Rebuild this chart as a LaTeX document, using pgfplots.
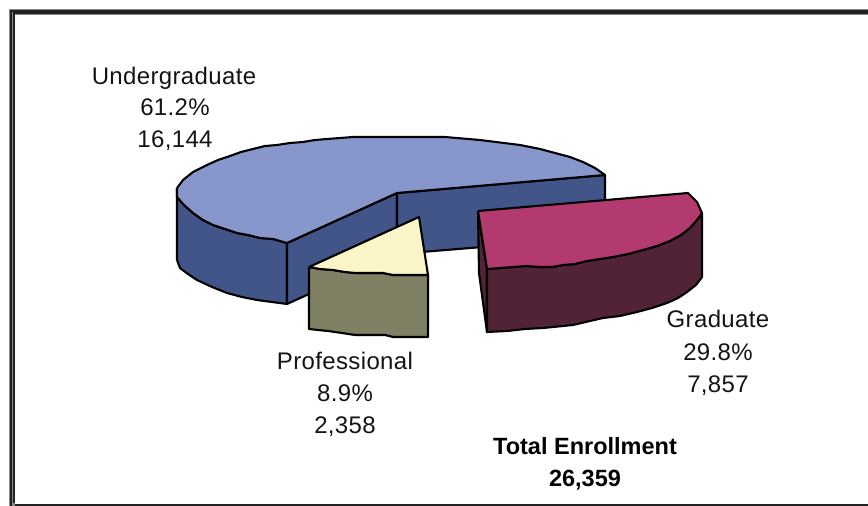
\documentclass[border=0pt]{standalone}
\usepackage{pgfplots}
\pgfplotsset{compat=1.18}
\usepackage{fontspec}
\setmainfont{Liberation Sans}
\definecolor{btop}{HTML}{8797CB}
\definecolor{bside}{HTML}{425589}
\definecolor{cream}{HTML}{FBF4C6}
\definecolor{olive}{HTML}{7F8064}
\definecolor{mag}{HTML}{B23A6F}
\definecolor{dark}{HTML}{522337}
\definecolor{fr}{HTML}{222222}
\definecolor{frg}{HTML}{8A8A8A}
\newcommand{\lab}[3]{\node[anchor=base,inner sep=0pt,text=black!92] at (axis cs:#1,#2) {\fontsize{24}{24}\selectfont\addfontfeature{LetterSpace=1.5}#3};}
\newcommand{\blab}[3]{\node[anchor=base,inner sep=0pt,text=black] at (axis cs:#1,#2) {\fontsize{23.5}{23.5}\selectfont\bfseries #3};}
\begin{document}
\begin{tikzpicture}[x=1pt,y=1pt]
\path[use as bounding box] (0,0) rectangle (868pt,506pt);
\begin{axis}[at={(0,0)},anchor=south west,hide axis,scale only axis,width=868pt,height=506pt,xmin=0,xmax=868,ymin=0,ymax=506,y dir=reverse,clip=true,
  every axis plot/.append style={line join=round,line width=2.1pt,draw=black,no markers}]
% blue side, outer
\addplot[fill=bside] coordinates {(177,188)(177,260)(180,268)(188,274)(197,280)(212,287)(227,293)(242,297)(257,300)(272,302)(287,304)(287,243)(273,239)(260,238)(248,235)(237,233)(225,229)(213,225)(203,220)(193,213)(184,205)(177,197)(177,188)};
% blue inner faces
\addplot[fill=bside] coordinates {(287,243)(397,193)(397,254)(287,304)(287,243)};
\addplot[fill=bside] coordinates {(397,193)(605,175)(605,237)(397,254)(397,193)};
% blue top
\addplot[fill=btop] coordinates {(177,188)(183,180)(193,172)(207,165)(218,160)(230,156)(241,152)(253,149)(265,146)(277,145)(290,143)(303,142)(315,140)(327,139)(340,138)(353,137)(400,137)(445,137)(480,140)(520,145)(540,149)(555,153)(570,157)(583,162)(595,168)(605,175)(397,193)(287,243)(273,239)(260,238)(248,235)(237,233)(225,229)(213,225)(203,220)(193,213)(184,205)(177,197)(177,188)};
% professional
\addplot[fill=olive] coordinates {(309,267)(320,269)(333,270)(345,272)(355,273)(370,273)(383,273)(393,275)(428,275)(428,337)(393,337)(385,335)(355,335)(342,333)(328,331)(318,330)(309,329)(309,267)};
\addplot[fill=cream] coordinates {(309,267)(419,217)(428,275)(393,275)(383,273)(370,273)(355,273)(345,272)(333,270)(320,269)(309,267)};
% graduate
\addplot[fill=dark] coordinates {(478,211)(487,269)(487,332)(479,273)(478,211)};
\addplot[fill=dark] coordinates {(487,269)(500,268)(513,267)(526,266)(540,267)(552,267)(563,265)(575,264)(587,261)(600,259)(613,257)(628,254)(643,250)(657,246)(670,241)(681,235)(690,228)(697,220)(702,213)(702,277)(696,285)(687,292)(678,298)(667,303)(652,308)(637,312)(620,316)(603,318)(590,321)(573,325)(543,328)(525,329)(507,331)(487,332)(487,269)};
\addplot[fill=mag] coordinates {(478,211)(688,193)(697,202)(702,213)(697,220)(690,228)(681,235)(670,241)(657,246)(643,250)(628,254)(613,257)(600,259)(587,261)(575,264)(563,265)(552,267)(540,267)(526,266)(513,267)(500,268)(487,269)(478,211)};
% frame
\addplot[draw=frg,line width=6pt,line cap=butt,line join=miter] coordinates {(12,506)(12,11.5)(868,11.5)};
\addplot[draw=fr,line width=2pt,line cap=butt,line join=miter] coordinates {(11,506)(11,10.5)(868,10.5)};
\addplot[draw=fr,line width=1.8pt,line cap=butt,line join=miter] coordinates {(14,503)(14,13.2)(868,13.2)};
\addplot[draw=fr,line width=2pt,line cap=butt] coordinates {(15,505)(868,505)};
\lab{174}{84}{Undergraduate}
\lab{175}{115}{61.2\%}
\lab{175}{147}{16,144}
\lab{718}{327}{Graduate}
\lab{718}{360}{29.8\%}
\lab{718}{392}{7,857}
\lab{345}{369}{Professional}
\lab{345}{401}{8.9\%}
\lab{345}{433}{2,358}
\blab{585}{454}{Total Enrollment}
\blab{585}{486}{26,359}
\end{axis}
\end{tikzpicture}
\end{document}
